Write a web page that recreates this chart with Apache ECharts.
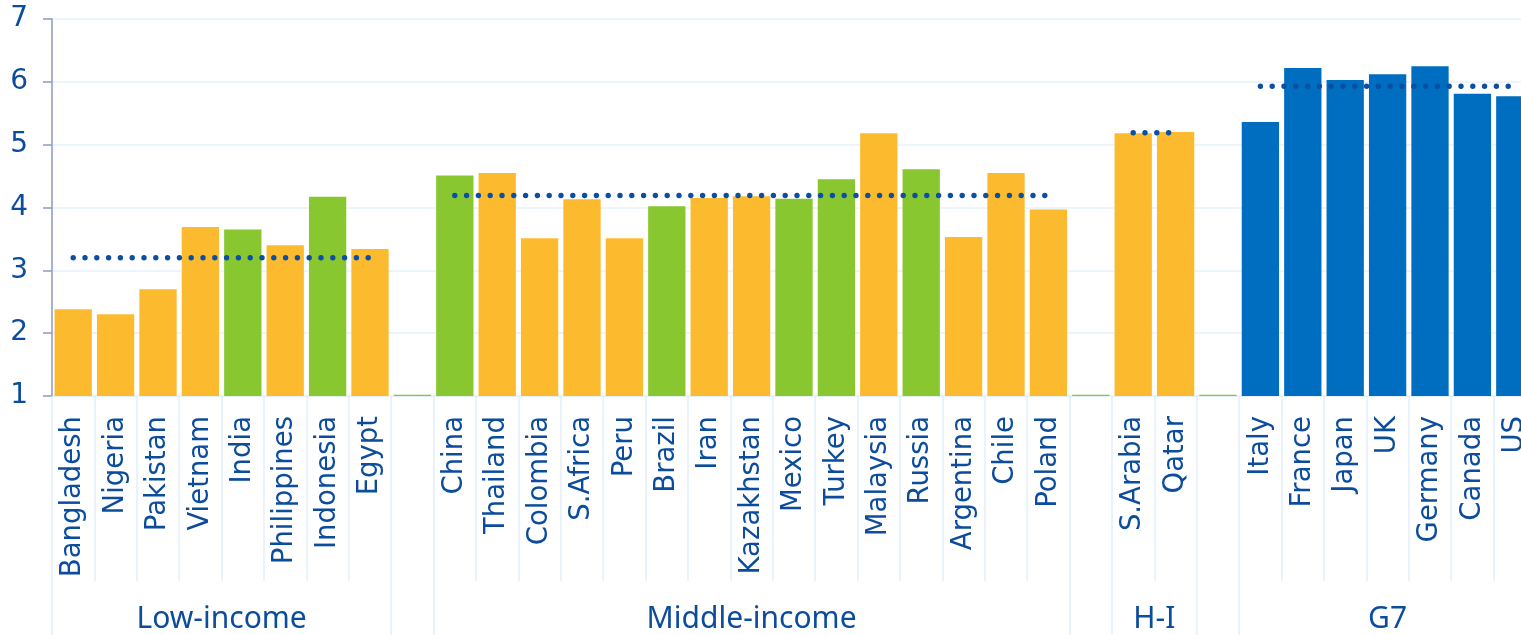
<!DOCTYPE html>
<html>
<head>
<meta charset="utf-8">
<script src="https://cdn.jsdelivr.net/npm/echarts@6/dist/echarts.min.js"></script>
<style>
html,body{margin:0;padding:0;background:#fff;overflow:hidden;}
#chart{width:1536px;height:635px;}
</style>
</head>
<body>
<div id="chart"></div>
<script>
// ---- data ----
var lowCountries = ['Bangladesh','Nigeria','Pakistan','Vietnam','India','Philippines','Indonesia','Egypt'];
var lowValues = [2.38,2.30,2.70,3.69,3.65,3.40,4.17,3.34];
var lowAverage = 3.20;

var middleCountries = ['China','Thailand','Colombia','S.Africa','Peru','Brazil','Iran','Kazakhstan','Mexico','Turkey','Malaysia','Russia','Argentina','Chile','Poland'];
var middleValues = [4.51,4.55,3.51,4.13,3.51,4.02,4.15,4.18,4.14,4.45,5.18,4.61,3.53,4.55,3.97];
var middleAverage = 4.19;

var highCountries = ['S.Arabia','Qatar'];
var highValues = [5.18,5.20];
var highAverage = 5.19;

var g7Countries = ['Italy','France','Japan','UK','Germany','Canada','US'];
var g7Values = [5.36,6.22,6.03,6.12,6.25,5.81,5.77];
var g7Average = 5.93;

var greenCountries = ['India','Indonesia','China','Brazil','Mexico','Turkey','Russia'];
var groupNames = ['Low-income','Middle-income','H-I','G7'];
var gapMarkerValue = 1.02;   // thin green marker drawn in the empty spacer slots
var yMin = 1, yMax = 7, yStep = 1;

// ---- styles ----
var YELLOW = '#fcbb2e', GREEN = '#89c731', BLUE = '#006ec0', DOT = '#0c4ea1', TEXT = '#0b4c9d';
var LIGHT = '#e3f0fa';

var groups = [
  {name: groupNames[0], countries: lowCountries, values: lowValues, avg: lowAverage, base: YELLOW},
  {name: groupNames[1], countries: middleCountries, values: middleValues, avg: middleAverage, base: YELLOW},
  {name: groupNames[2], countries: highCountries, values: highValues, avg: highAverage, base: YELLOW},
  {name: groupNames[3], countries: g7Countries, values: g7Values, avg: g7Average, base: BLUE}
];

var categories = [], barData = [], groupRanges = [];
groups.forEach(function (g, gi) {
  if (gi > 0) {
    categories.push('__gap' + gi);
    barData.push({value: gapMarkerValue, itemStyle: {color: GREEN}});
  }
  var start = categories.length;
  g.countries.forEach(function (c, i) {
    categories.push(c);
    var col = greenCountries.indexOf(c) >= 0 ? GREEN : g.base;
    barData.push({value: g.values[i], itemStyle: {color: col}});
  });
  groupRanges.push({start: start, end: categories.length, name: g.name, avg: g.avg});
});
var N = categories.length;

// average dotted lines
var lineSeries = groupRanges.map(function (r) {
  var d = [];
  for (var i = 0; i < N; i++) d.push(i >= r.start && i < r.end ? r.avg : null);
  return {
    type: 'line', data: d, symbol: 'none', silent: true, z: 5, xAxisIndex: 0,
    lineStyle: {color: DOT, width: 5.4, type: [0, 11.8], cap: 'round'}
  };
});

// half-slot axis for group labels and separators
var halfCats = [], boundaryIdx = {}, labelIdx = {};
for (var k = 0; k <= 2 * N; k++) halfCats.push('h' + k);
boundaryIdx[0] = true; boundaryIdx[2 * N] = true;
groupRanges.forEach(function (r) {
  boundaryIdx[2 * r.start] = true;
  boundaryIdx[2 * r.end] = true;
  labelIdx[r.start + r.end] = r.name;
});

var chart = echarts.init(document.getElementById('chart'), null, {renderer: 'canvas'});
chart.setOption({
  animation: false,
  grid: {left: 52, right: 0, top: 19, bottom: 239, containLabel: false, outerBoundsMode: 'none'},
  xAxis: [{
    type: 'category', data: categories, position: 'bottom',
    axisLine: {show: true, lineStyle: {color: LIGHT, width: 1}},
    axisTick: {show: true, interval: 0, length: 185, lineStyle: {color: LIGHT, width: 1.5}},
    axisLabel: {
      interval: 0, rotate: 90, margin: 20, color: TEXT, fontFamily: 'DejaVu Sans', fontSize: 27.5,
      formatter: function (v) { return v.indexOf('__gap') === 0 ? '' : v; }
    },
    splitLine: {show: false}
  }, {
    type: 'category', data: halfCats, position: 'bottom', boundaryGap: false,
    axisLine: {show: false},
    axisTick: {show: true, length: 240, lineStyle: {color: LIGHT, width: 1.5},
      interval: function (i) { return !!boundaryIdx[i]; }},
    axisLabel: {
      show: true, margin: 208, color: TEXT, fontFamily: 'Noto Sans', fontSize: 30,
      interval: function (i) { return labelIdx[i] !== undefined; },
      formatter: function (v, i) { return labelIdx[i] || ''; }
    },
    splitLine: {show: false}
  }],
  yAxis: {
    type: 'value', min: yMin, max: yMax, interval: yStep,
    axisLine: {show: true, lineStyle: {color: '#8c99c6', width: 1.5}},
    axisTick: {show: true, length: 9, lineStyle: {color: '#8c99c6', width: 1.5}},
    axisLabel: {color: TEXT, fontFamily: 'DejaVu Sans', fontSize: 28, margin: 24},
    splitLine: {show: true, lineStyle: {color: '#e6f2fb', width: 1.5}}
  },
  series: [{
    type: 'bar', data: barData, barCategoryGap: '12%', z: 2, silent: true
  }].concat(lineSeries)
});
</script>
</body>
</html>
